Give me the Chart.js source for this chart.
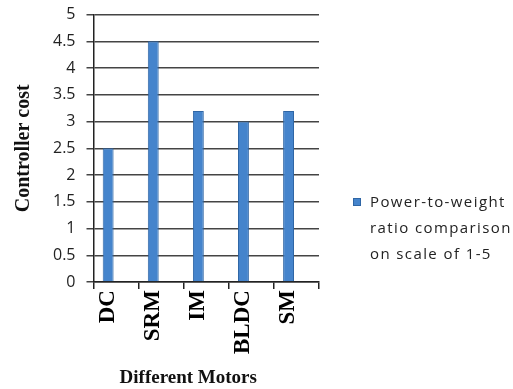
<!DOCTYPE html>
<html>
<head>
<meta charset="utf-8">
<script src="https://cdn.jsdelivr.net/npm/chart.js@4/dist/chart.umd.min.js"></script>
<style>
  html, body { margin: 0; padding: 0; background: #fff; }
  #wrap { width: 513px; height: 389px; }
</style>
</head>
<body>
<div id="wrap"><canvas id="chart" width="513" height="389"></canvas></div>
<script>
const motors = ['DC', 'SRM', 'IM', 'BLDC', 'SM'];
const powerToWeight = [2.5, 4.5, 3.2, 3.0, 3.2];
const seriesLabel = ['Power-to-weight', 'ratio comparison', 'on scale of 1-5'];
const xTitle = 'Different Motors';
const yTitle = 'Controller cost';

// legend on the right (wrapped over three lines) and the x axis title
const extras = {
  id: 'extras',
  afterDraw(chart) {
    const ctx = chart.ctx;
    const area = chart.chartArea;
    ctx.save();

    const lx = 353, ly = 202;
    ctx.fillStyle = '#4584cc';
    ctx.fillRect(lx, ly - 4, 8, 8);
    ctx.strokeStyle = '#2f66a5';
    ctx.lineWidth = 1;
    ctx.strokeRect(lx + 0.5, ly - 3.5, 7, 7);
    ctx.fillStyle = '#222';
    ctx.font = '15px "Open Sans"';
    ctx.letterSpacing = '1.4px';
    ctx.textBaseline = 'middle';
    seriesLabel.forEach((line, i) => {
      ctx.fillText(line, lx + 17, ly + 1 + i * 26);
    });

    ctx.letterSpacing = '0px';
    ctx.fillStyle = '#111';
    ctx.font = 'bold 19px "Liberation Serif"';
    ctx.textAlign = 'center';
    ctx.fillText(xTitle, (area.left + area.right) / 2 - 18, 378);
    ctx.restore();
  }
};

new Chart(document.getElementById('chart'), {
  type: 'bar',
  data: {
    labels: motors,
    datasets: [{
      label: seriesLabel.join(' '),
      data: powerToWeight,
      backgroundColor: '#4584cc',
      borderColor: '#2f66a5',
      borderWidth: 1
    }, {
      // empty second slot, keeps the bars left of each category centre
      label: '',
      data: [null, null, null, null, null]
    }]
  },
  options: {
    responsive: false,
    animation: false,
    categoryPercentage: 0.7,
    barPercentage: 0.69,
    layout: { padding: { top: 0, right: 194, bottom: 34, left: 12 } },
    plugins: {
      legend: { display: false },
      tooltip: { enabled: false }
    },
    scales: {
      x: {
        grid: {
          offset: true,
          drawOnChartArea: false,
          color: '#222',
          lineWidth: 1.5,
          tickLength: 7
        },
        border: { color: '#222', width: 1.5 },
        ticks: {
          color: '#000',
          maxRotation: 90,
          minRotation: 90,
          padding: 1,
          labelOffset: -8,
          font: { family: '"Liberation Serif"', size: 23, weight: 'bold' }
        }
      },
      y: {
        min: 0,
        max: 5,
        ticks: {
          stepSize: 0.5,
          color: '#222',
          padding: 11,
          callback: v => String(v),
          font: { family: '"Open Sans"', size: 16, lineHeight: 0.45 }
        },
        grid: {
          color: '#444',
          lineWidth: 1.5,
          tickLength: 7
        },
        border: { color: '#222', width: 1.5 },
        title: {
          display: true,
          text: yTitle,
          color: '#111',
          padding: { top: 0, bottom: 6 },
          font: { family: '"Liberation Serif"', size: 20, weight: 'bold' }
        }
      }
    }
  },
  plugins: [extras]
});
</script>
</body>
</html>
